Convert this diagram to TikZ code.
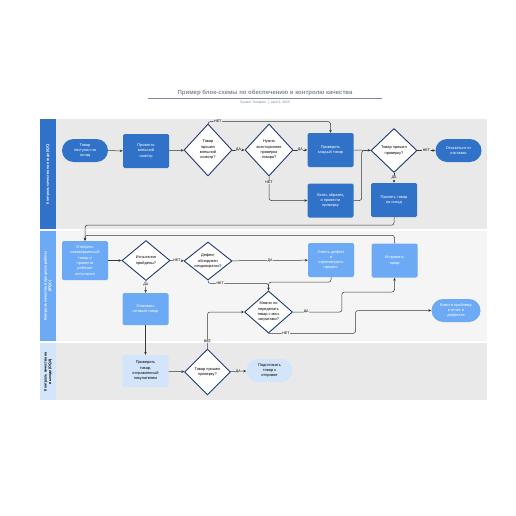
\documentclass[tikz,border=0pt]{standalone}
\usepackage{fontspec}
\setmainfont{Liberation Sans}
\usetikzlibrary{shapes.geometric,arrows.meta}
\definecolor{darkblue}{RGB}{49,114,201}
\definecolor{midblue}{RGB}{108,170,245}
\definecolor{paleblue}{RGB}{211,229,250}
\definecolor{navy}{RGB}{30,58,110}
\definecolor{lanegray}{RGB}{233,233,233}
\definecolor{lanelight}{RGB}{245,245,245}
\definecolor{titlegray}{RGB}{128,136,156}
\definecolor{wire}{RGB}{55,55,55}
\newcommand{\boxfont}{\fontsize{3.9}{5.3}\selectfont}
\begin{document}
\begin{tikzpicture}[x=1pt,y=-1pt,
  box/.style={rectangle,rounded corners=1.5pt,minimum width=46,minimum height=34,align=center,font=\boxfont,text=white,inner sep=1pt},
  pill/.style={rectangle,rounded corners=11.5pt,minimum width=46,minimum height=23,align=center,font=\boxfont,text=white,inner sep=1pt},
  diam/.style={diamond,draw=navy,line width=0.9pt,fill=white,minimum width=48,minimum height=52,inner sep=0pt},
  dtext/.style={font=\boxfont,align=center,text=black,inner sep=0pt},
  conn/.style={draw=wire,line width=0.5pt,rounded corners=2.5pt,-{Stealth[length=3pt,width=2.6pt]}},
  line/.style={draw=wire,line width=0.5pt,rounded corners=2.5pt},
  lbl/.style={font=\fontsize{3.6}{4}\selectfont,fill=lanegray,inner sep=0.6pt,text=black},
  lbltwo/.style={lbl,fill=lanelight},
  hdr/.style={rotate=90,font=\fontsize{3.6}{4.6}\selectfont\bfseries,align=center}]
\useasboundingbox[fill=white] (0,0) rectangle (516,516);

% title
\node[font=\fontsize{6}{7}\selectfont\bfseries,text=titlegray] (title) at (265,93) {Пример блок-схемы по обеспечению и контролю качества};
\draw[titlegray,line width=0.6pt] (148,98.5)--(382,98.5);
\node[font=\fontsize{3.4}{4}\selectfont,text=titlegray] (sub) at (265,103) {System Template \ | \ April 2, 2025};

% lanes
\fill[lanegray] (40,119) rectangle (487,229);
\fill[lanelight] (40,231) rectangle (487,341);
\fill[lanegray] (40,343) rectangle (487,400);
\fill[darkblue] (40,119) rectangle (56,229);
\fill[midblue] (40,231) rectangle (56,341);
\fill[paleblue] (40,343) rectangle (56,400);
\node[hdr,text=white] (iqc) at (48,174) {Контроль качества на входе (IQC)};
\node[hdr,text=white] (ipqc) at (48,286) {Контроль качества в процессе работы\\(IPQC)};
\node[hdr,text=black] (oqa) at (48,371.5) {Контроль качества на\\выходе (OQA)};

% lane 1
\node[pill,fill=darkblue] (arrive) at (85,150.5) {Товар\\поступил на\\склад};
\node[box,fill=darkblue] (inspect) at (146,151) {Провести\\внешний\\осмотр};
\node[diam,label={[dtext]center:Товар\\прошел\\внешний\\осмотр?}] (d1) at (208,150) {};
\node[diam,label={[dtext]center:Нужна\\всесторонняя\\проверка\\товара?}] (d2) at (269,150) {};
\node[box,fill=darkblue] (check) at (330.5,150) {Проверить\\каждый товар};
\node[box,fill=darkblue] (sample) at (330.5,200.5) {Взять образец\\и провести\\проверку};
\node[diam,minimum width=46,minimum height=44,label={[dtext]center:Товар прошел\\проверку?}] (d3) at (394,150.5) {};
\node[pill,fill=darkblue] (reject) at (458.5,150.5) {Отказаться от\\поставки};
\node[box,fill=darkblue] (accept) at (394,200) {Принять товар\\на склад};

% lane 2
\node[box,fill=midblue,minimum height=39] (select) at (85,260.5) {Отобрать\\незавершенный\\товар и\\провести\\рабочие\\испытания};
\node[diam,minimum height=40,label={[dtext]center:Испытания\\пройдены?}] (test) at (146,260.5) {};
\node[diam,minimum height=38,label={[dtext]center:Дефект\\обнаружен\\неоднократно?}] (defect) at (208,261) {};
\node[box,fill=midblue] (review) at (331,260) {Учесть дефект\\и\\пересмотреть\\процесс};
\node[box,fill=midblue] (fix) at (394.5,260.5) {Исправить\\товар};
\node[diam,minimum height=42,label={[dtext]center:Можно ли\\переделать\\товар с мин.\\затратами?}] (rework) at (268.5,312) {};
\node[box,fill=midblue,minimum height=32] (pack) at (145.5,309) {Упаковать\\готовый товар};
\node[pill,fill=midblue,minimum width=49] (report) at (456,310.5) {Внести проблему\\в отчет о\\дефектах};

% lane 3
\node[box,fill=paleblue,text=black,minimum height=32] (verify) at (145.5,371) {Проверить\\товар,\\отправленный\\покупателем};
\node[diam,minimum width=46,minimum height=46,label={[dtext]center:Товар прошел\\проверку?}] (d4) at (207.5,372) {};
\node[pill,fill=paleblue,text=black] (ship) at (269.5,370.5) {Подготовить\\товар к\\отправке};

% connectors lane 1
\draw[conn] (arrive) -- (inspect);
\draw[conn] (inspect) -- (d1);
\draw[conn] (d1) -- node[lbl]{ДА} (d2);
\draw[conn] (d2) -- node[lbl]{ДА} (check);
\draw[conn] (d1.north) -- ++(0,-2) -| node[lbl,pos=0.04]{НЕТ} (check.north);
\draw[conn] (d2.south) |- node[lbl,pos=0.12]{НЕТ} (sample.west);
\draw[conn] (check) -- (d3);
\draw[line] (sample.east) -- ++(8,0) |- (d3.west);
\draw[conn] (d3) -- node[lbl]{НЕТ} (reject);
\draw[conn] (d3.south) -- node[lbl]{ДА} (accept.north);
\draw[conn] (accept.south) -- ++(0,8) -| (select.north);

% connectors lane 2
\draw[conn] (select) -- (test);
\draw[conn] (test) -- node[lbltwo]{НЕТ} (defect);
\draw[conn] (test.south) -- node[lbltwo,pos=0.3]{ДА} (pack.north);
\draw[conn] (defect) -- node[lbltwo]{ДА} (review);
\draw[conn] (defect.south) -- ++(0,3) -| node[lbltwo,pos=0.1]{НЕТ} (rework.north);
\draw[line] (review.south) -- ++(0,5) -| (rework.north);
\draw[conn] (rework.east) -- node[lbltwo,pos=0.27]{ДА} ++(49,0) |- ++(20,-20) -| (fix.south);
\draw[conn] (rework.south) -- node[lbltwo,pos=0.2]{НЕТ} ++(87,0) |- (report.west);
\draw[conn] (fix.north) -- ++(0,-8) -| (select.north);
\draw[conn] (pack.south) -- (verify.north);

% connectors lane 3
\draw[conn] (verify) -- (d4);
\draw[conn] (d4) -- node[lbl]{ДА} (ship);
\draw[conn] (d4.north) |- node[lbl,pos=0.1]{НЕТ} (rework.west);
\end{tikzpicture}
\end{document}
